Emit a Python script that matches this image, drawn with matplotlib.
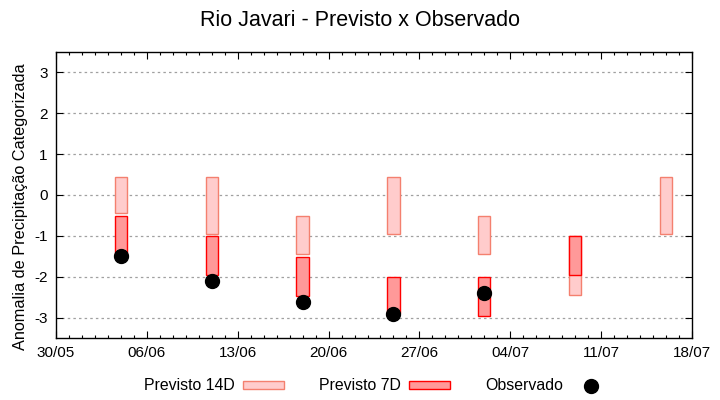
import matplotlib
matplotlib.use("Agg")
import matplotlib.pyplot as plt
import matplotlib.dates as mdates
import numpy as np
from datetime import datetime

plt.rcParams['font.family'] = ['Liberation Sans', 'DejaVu Sans']

# ---- data ----
dates_str = ["04/06", "11/06", "18/06", "25/06", "02/07", "09/07", "16/07"]
p14_low = [-0.45, -0.96, -1.45, -0.96, -1.45, -2.45, -0.96]
p14_high = [0.43, 0.43, -0.51, 0.43, -0.51, -1.0, 0.43]
p7_low = [-1.45, -1.97, -2.46, -2.9, -2.97, -1.96, np.nan]
p7_high = [-0.52, -1.0, -1.52, -2.0, -2.0, -1.0, np.nan]
observed = [-1.5, -2.1, -2.61, -2.92, -2.41, np.nan, np.nan]
xtick_labels = ["30/05", "06/06", "13/06", "20/06", "27/06", "04/07", "11/07", "18/07"]
yticks = [-3, -2, -1, 0, 1, 2, 3]
year = 2023

def to_date(s):
    d, m = s.split("/")
    return datetime(year, int(m), int(d))

dates = [to_date(s) for s in dates_str]
xt = [to_date(s) for s in xtick_labels]

fig = plt.figure(figsize=(7.2, 4.0), dpi=100)
ax = fig.add_axes([56/720, 1-338/400, (692-56)/720, (338-52)/400])

w = 0.95
p14_h = np.array(p14_high) - np.array(p14_low)
p7_h = np.array(p7_high) - np.array(p7_low)
b14 = ax.bar(dates, p14_h, bottom=p14_low, width=w, color="#ffcccc",
             edgecolor="#f4806f", linewidth=1.0, zorder=2, label="Previsto 14D")
b7 = ax.bar(dates, p7_h, bottom=p7_low, width=w, color="#ff9999",
            edgecolor="#ff0000", linewidth=1.0, zorder=3, label="Previsto 7D")
obs, = ax.plot(dates, observed, "o", color="black", markersize=10, zorder=4,
               linestyle="none", label="Observado")

ax.set_xlim(xt[0], xt[-1])
ax.set_ylim(-3.5, 3.5)
ax.set_xticks(xt)
ax.set_xticklabels(xtick_labels)
ax.xaxis.set_minor_locator(mdates.DayLocator())
ax.set_yticks(yticks)
ax.set_yticklabels([str(v) for v in yticks])
ax.tick_params(axis="both", which="major", direction="in", length=5,
               top=True, right=True, labelsize=11, width=0.8, pad=6)
ax.tick_params(axis="x", which="minor", direction="in", length=2.5,
               top=True, bottom=True, width=0.8)
ax.yaxis.grid(True, linestyle=(0, (2, 2.5)), color="#a0a0a0", linewidth=0.9)
ax.set_axisbelow(True)
for s in ax.spines.values():
    s.set_linewidth(1.0)

ax.set_ylabel("Anomalia de Precipitação Categorizada", fontsize=11.7)
ax.yaxis.set_label_coords(-(56 - 28) / 636, 0.458)
fig.text(0.5, 1-20/400, "Rio Javari - Previsto x Observado", ha="center",
         va="center", fontsize=15.5)

leg = fig.legend(handles=[b14, b7, obs],
                 labels=["Previsto 14D", "Previsto 7D", "Observado"],
                 loc="center", bbox_to_anchor=(378/720, 1-386/400), ncol=3,
                 frameon=False, markerfirst=False, fontsize=11.4,
                 handlelength=2.6, handleheight=0.45, columnspacing=2.2,
                 handletextpad=0.5)

fig.savefig("out.png", dpi=100)
